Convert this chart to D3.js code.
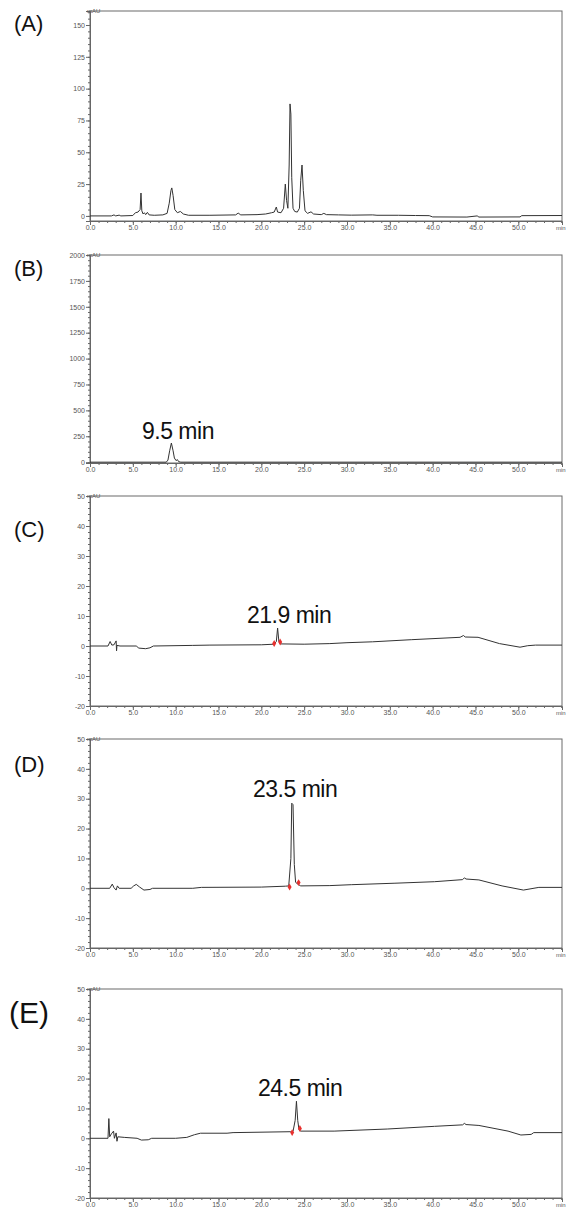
<!DOCTYPE html>
<html>
<head>
<meta charset="utf-8">
<script src="https://cdn.jsdelivr.net/npm/d3@7"></script>
<style>
body { margin: 0; background: #fff; }
svg { display: block; font-family: "Liberation Sans", Arial, sans-serif; }
</style>
</head>
<body>
<svg width="567" height="1209"></svg>
<script>
// chromatogram traces, [time (min), signal (mAU)]
var traceA = [[0,0],[2.5,0],[2.8,0.8],[3.0,0],[3.4,0.6],[3.6,0],[5.0,0.3],[5.3,2.5],[5.6,3],[5.85,5],[5.95,18],[6.05,4],[6.2,1.5],
  [6.35,2.5],[6.5,1],[6.7,2.8],[6.9,0.8],[7.5,0.5],[8.5,0.8],[9.0,2],[9.25,10],[9.45,20],[9.55,22],[9.7,16],[9.9,5],[10.2,2.5],
  [10.55,3.5],[10.9,1.5],[11.5,0.5],[14,0.5],[17.0,0.8],[17.3,2.2],[17.6,0.8],[19.5,1],[20.5,1.5],[21.2,2.5],[21.5,3],[21.75,7],
  [21.9,3],[22.3,2.5],[22.6,6],[22.8,25],[22.95,12],[23.1,6],[23.25,40],[23.35,88],[23.45,80],[23.55,30],[23.7,6],[23.9,3.5],
  [24.2,3],[24.45,6],[24.6,28],[24.75,40],[24.9,20],[25.1,4],[25.4,2],[25.8,3.2],[26.1,1.5],[27.0,1],[27.3,2],[27.6,1],[29.0,0.8],
  [30.5,0.6],[33,0.8],[33.5,0.5],[36,0.5],[38,0.3],[39.6,0.2],[40,-0.8],[44,-0.9],[45.2,0],[45.4,-0.9],[50.2,-0.8],[50.4,0.2],[55.1,0.3]];

var traceB = [[0,0],[8.9,0],[9.1,20],[9.3,110],[9.5,185],[9.7,110],[9.85,40],[10.05,15],[10.2,25],[10.35,5],[10.6,0],[55.1,0]];

var traceC = [[0,0],[2.1,0],[2.35,1.5],[2.55,0.3],[2.8,0.4],[3.05,1.7],[3.1,-1.6],[3.15,0.2],[3.5,0],[5.4,0],[5.7,-0.7],[6.5,-0.9],
  [7.0,-0.6],[7.4,0],[12,0.2],[14,0.3],[20,0.4],[21.5,0.6],[21.75,1.5],[21.9,6],[22.05,1.5],[22.2,0.7],[25,0.6],[28,0.8],[30,1.1],
  [33,1.4],[37.5,2.1],[43.2,2.9],[43.6,3.5],[43.8,3],[45.3,2.9],[47.8,0.8],[50.2,-0.4],[51.1,0.1],[52,0.3],[55.1,0.3]];

var traceD = [[0,0],[2.3,0],[2.6,1.4],[2.8,0.2],[3.05,-0.6],[3.2,0.8],[3.4,0],[4.8,0],[5.1,0.8],[5.4,1.3],[5.8,0.4],[6.3,-0.6],
  [7.0,-0.4],[7.3,0],[12,0],[13,0.3],[20,0.4],[22.8,0.7],[23.2,0.8],[23.45,10],[23.55,28.5],[23.7,28],[23.85,8],[24.0,2],[24.3,1.3],
  [24.6,0.8],[28,0.9],[30.5,1.2],[35.6,1.7],[40.2,2.2],[43.5,2.9],[43.7,3.5],[43.9,3.1],[45.4,2.8],[48.1,0.8],[50.6,-0.6],[52.4,0.3],[55.1,0.3]];

var traceE = [[0,0],[2.1,0],[2.2,6.6],[2.3,0.5],[2.5,1.5],[2.75,2.4],[2.85,0],[3.05,1.8],[3.15,-1],[3.25,0.5],[4,0.3],[5.5,0],
  [6,-0.6],[6.8,-0.5],[7.2,0],[10,0],[11.3,0.3],[12.2,1.2],[12.9,1.7],[16,1.7],[16.7,1.9],[23.4,2.2],[23.7,2.3],[23.95,6],[24.1,12.4],
  [24.25,6],[24.4,2.8],[24.6,2.4],[28.5,2.4],[34.7,3.1],[40.2,4],[43.5,4.5],[43.7,5],[43.9,4.6],[45.4,4.3],[48.8,2.4],[50.3,1.1],
  [51.5,1.3],[51.8,1.9],[55.1,1.9]];

// integration marks (peak start / end)
var marksC = [[21.5,0.8],[22.2,1.3]];
var marksD = [[23.3,0.4],[24.35,1.9]];
var marksE = [[23.6,1.9],[24.5,3.3]];

// tick values
var xTicks = d3.range(0, 51, 5);
var xMinor = d3.range(0, 56, 1);
var yTicksA = [0, 25, 50, 75, 100, 125, 150];
var yMinorA = d3.range(0, 161, 5);
var yTicksB = [0, 250, 500, 750, 1000, 1250, 1500, 1750, 2000];
var yMinorB = d3.range(0, 2001, 50);
var yTicksCDE = [-20, -10, 0, 10, 20, 30, 40, 50];
var yMinorCDE = d3.range(-20, 51, 2);

var peakLabels = ['9.5 min', '21.9 min', '23.5 min', '24.5 min'];

var svg = d3.select('svg');
var left = 90, right = 562;
var xDomain = [0, 55.1];

var panels = [
  {name: '(A)', trace: traceA, marks: [], top: 11, bottom: 221, yDomain: [-4, 161], ticks: yTicksA, minor: yMinorA,
   lx: 14, ly: 31, lsize: 22},
  {name: '(B)', trace: traceB, marks: [], top: 255, bottom: 463, yDomain: [-8, 2000], ticks: yTicksB, minor: yMinorB,
   lx: 14, ly: 276, lsize: 22, peak: peakLabels[0], px: 142, py: 439},
  {name: '(C)', trace: traceC, marks: marksC, top: 496, bottom: 706, yDomain: [-20, 50], ticks: yTicksCDE, minor: yMinorCDE,
   lx: 14, ly: 537, lsize: 22, peak: peakLabels[1], px: 247, py: 623},
  {name: '(D)', trace: traceD, marks: marksD, top: 739, bottom: 948, yDomain: [-20, 50], ticks: yTicksCDE, minor: yMinorCDE,
   lx: 14, ly: 772, lsize: 22, peak: peakLabels[2], px: 253, py: 797},
  {name: '(E)', trace: traceE, marks: marksE, top: 989, bottom: 1198, yDomain: [-20, 50], ticks: yTicksCDE, minor: yMinorCDE,
   lx: 9, ly: 1023, lsize: 30, peak: peakLabels[3], px: 258, py: 1096}
];

var xScale = d3.scaleLinear().domain(xDomain).range([left, right]);

function styleAxis(a) {
  a.select('.domain').attr('stroke', '#666');
  a.selectAll('line').attr('stroke', '#666');
  a.selectAll('text').attr('font-size', 7).attr('fill', '#555').attr('font-family', 'Liberation Sans, Arial');
}

panels.forEach(function(p) {
  var g = svg.append('g');
  var yScale = d3.scaleLinear().domain(p.yDomain).range([p.bottom, p.top]);

  // frame
  g.append('rect')
    .attr('x', left).attr('y', p.top)
    .attr('width', right - left).attr('height', p.bottom - p.top)
    .attr('fill', 'none').attr('stroke', '#6a6a6a').attr('stroke-width', 1);

  // y axis minor + major
  g.append('g').attr('transform', 'translate(' + left + ',0)')
    .call(d3.axisLeft(yScale).tickValues(p.minor).tickSize(2).tickFormat(''))
    .call(function(a) { a.select('.domain').remove(); a.selectAll('line').attr('stroke', '#666'); });
  g.append('g').attr('transform', 'translate(' + left + ',0)')
    .call(d3.axisLeft(yScale).tickValues(p.ticks).tickSize(4).tickPadding(1).tickFormat(function(d) { return String(d); }))
    .call(styleAxis);

  // x axis minor + major
  g.append('g').attr('transform', 'translate(0,' + p.bottom + ')')
    .call(d3.axisBottom(xScale).tickValues(xMinor).tickSize(2).tickFormat(''))
    .call(function(a) { a.select('.domain').remove(); a.selectAll('line').attr('stroke', '#666'); });
  g.append('g').attr('transform', 'translate(0,' + p.bottom + ')')
    .call(d3.axisBottom(xScale).tickValues(xTicks).tickSize(4).tickPadding(0).tickFormat(function(d) { return d.toFixed(1); }))
    .call(styleAxis);

  g.append('text').attr('x', right - 6).attr('y', p.bottom + 9)
    .attr('font-size', 6).attr('fill', '#555').text('min');
  g.append('text').attr('x', left - 3).attr('y', p.top + 2)
    .attr('font-size', 6).attr('fill', '#555').text('mAU');

  // trace
  var line = d3.line()
    .x(function(d) { return xScale(d[0]); })
    .y(function(d) { return yScale(d[1]); });
  g.append('path').datum(p.trace)
    .attr('d', line)
    .attr('fill', 'none').attr('stroke', '#333').attr('stroke-width', 1);

  g.selectAll('.mark').data(p.marks).enter().append('path')
    .attr('class', 'mark')
    .attr('transform', function(d) { return 'translate(' + xScale(d[0]) + ',' + yScale(d[1]) + ')'; })
    .attr('d', d3.symbol().type(d3.symbolDiamond).size(14))
    .attr('fill', '#e8312f');

  // panel letter
  g.append('text').attr('x', p.lx).attr('y', p.ly)
    .attr('font-size', p.lsize).attr('fill', '#111').text(p.name);

  if (p.peak) {
    g.append('text').attr('x', p.px).attr('y', p.py)
      .attr('font-size', 23).attr('fill', '#111').attr('letter-spacing', -0.5).text(p.peak);
  }
});
</script>
</body>
</html>
